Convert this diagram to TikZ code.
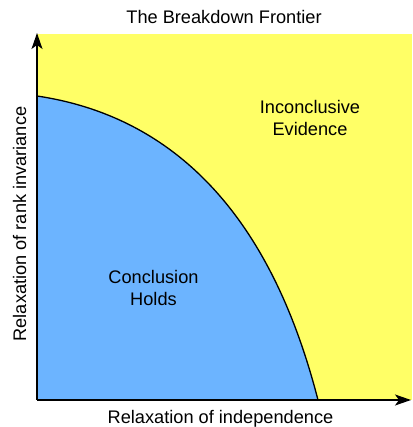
\documentclass[tikz,border=0pt]{standalone}
\usepackage{fontspec}
\setmainfont{Liberation Sans}
\usetikzlibrary{arrows.meta}
\definecolor{regblue}{HTML}{6CB4FF}
\definecolor{regyellow}{HTML}{FFFF66}
\begin{document}
\begin{tikzpicture}[x=1pt,y=1pt,
  lab/.style={font=\fontsize{18.2}{22}\selectfont, inner sep=0pt, align=center},
  axis/.style={line width=1.4pt, -{Stealth[length=16pt,width=11pt,inset=4pt]}}]
\useasboundingbox (0,0) rectangle (412,427);
\coordinate (O) at (37,27);
\coordinate (ytop) at (37,394);
\coordinate (xend) at (411,27);
\coordinate (cs) at (37,331);
\coordinate (ce) at (318,27);
\fill[regyellow] (37,27) rectangle (412,393);
\fill[regblue] (O) -- (cs) .. controls (218,304) and (287,147) .. (ce) -- cycle;
\draw[line width=1.3pt] (cs) .. controls (218,304) and (287,147) .. (ce);
\draw[axis] (O) -- (ytop);
\draw[axis] (O) -- (xend);
\node[lab, anchor=base] (title) at (224,403) {The Breakdown Frontier};
\node[lab, anchor=base] (xlab) at (220.5,3) {Relaxation of independence};
\node[lab, anchor=base, rotate=90] (ylab) at (26,203) {Relaxation of rank invariance};
\node[lab] (holds) at (153.5,139.2) {Conclusion\\Holds};
\node[lab] (incon) at (310,308.7) {Inconclusive\\Evidence};
\end{tikzpicture}
\end{document}
